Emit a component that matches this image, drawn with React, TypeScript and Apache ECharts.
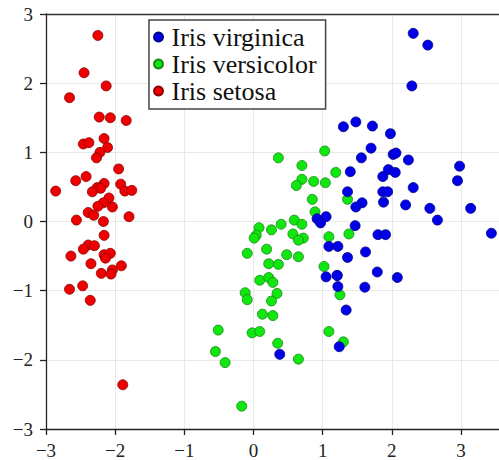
import React, { useEffect, useRef } from "react";
import * as echarts from "echarts";

// Iris PCA scores: [PC1, PC2]
const setosa: [number, number][] = [
  [-2.25, 2.69], [-2.45, 2.15], [-2.13, 1.96], [-2.66, 1.79], [-2.23, 1.51],
  [-2.07, 1.5], [-1.84, 1.46], [-2.16, 1.2], [-2.46, 1.12], [-2.38, 1.14],
  [-2.11, 1.07], [-2.22, 1.0], [-2.27, 0.92], [-1.95, 0.76], [-2.42, 0.65],
  [-2.57, 0.59], [-2.16, 0.55], [-1.92, 0.54], [-2.26, 0.49], [-2.21, 0.48],
  [-2.33, 0.43], [-2.86, 0.44], [-1.86, 0.44], [-1.76, 0.45], [-2.09, 0.34],
  [-2.17, 0.27], [-2.25, 0.22], [-2.04, 0.21], [-2.39, 0.13], [-2.31, 0.09],
  [-2.56, 0.02], [-2.17, 0.0], [-1.8, 0.07], [-2.16, -0.2], [-2.39, -0.34],
  [-2.3, -0.35], [-2.46, -0.4], [-2.64, -0.5], [-2.16, -0.48], [-2.07, -0.46],
  [-2.14, -0.53], [-2.35, -0.61], [-1.91, -0.64], [-2.04, -0.7], [-2.2, -0.75],
  [-2.06, -0.76], [-2.66, -0.98], [-2.47, -0.93], [-2.36, -1.14], [-1.89, -2.36],
];

const versicolor: [number, number][] = [
  [0.36, 0.92], [1.03, 1.02], [0.7, 0.81], [1.19, 0.71], [0.7, 0.61],
  [0.62, 0.52], [0.87, 0.58], [1.04, 0.56], [0.85, 0.32], [1.36, 0.32],
  [0.89, 0.14], [0.08, -0.09], [0.26, -0.12], [0.4, -0.04], [0.59, 0.02],
  [0.7, -0.04], [0.04, -0.2], [0.01, -0.24], [0.57, -0.18], [0.72, -0.24],
  [0.65, -0.27], [1.09, -0.22], [1.38, -0.18], [-0.09, -0.46], [0.19, -0.4],
  [0.48, -0.48], [0.65, -0.51], [0.22, -0.61], [0.36, -0.62], [1.02, -0.65],
  [0.09, -0.85], [0.22, -0.81], [0.28, -0.88], [-0.12, -1.03], [-0.09, -1.13],
  [0.34, -1.04], [0.26, -1.15], [0.13, -1.34], [0.28, -1.36], [-0.51, -1.57],
  [-0.02, -1.61], [0.09, -1.59], [0.35, -1.76], [-0.55, -1.88], [-0.41, -2.04],
  [0.65, -1.99], [-0.17, -2.67], [1.09, -1.59], [1.25, -1.06], [1.3, -1.74],
];

const virginica: [number, number][] = [
  [2.31, 2.72], [2.52, 2.55], [2.29, 1.96], [1.3, 1.37], [1.48, 1.44],
  [1.72, 1.38], [1.98, 1.27], [1.7, 1.06], [1.56, 0.92], [2.02, 0.97],
  [2.06, 0.99], [2.24, 0.89], [2.98, 0.8], [1.4, 0.72], [1.87, 0.65],
  [1.95, 0.75], [2.05, 0.71], [2.95, 0.59], [2.31, 0.49], [1.36, 0.43],
  [1.87, 0.43], [1.94, 0.43], [1.57, 0.27], [1.48, 0.21], [1.88, 0.28],
  [2.2, 0.24], [2.55, 0.19], [3.14, 0.19], [2.66, 0.02], [1.05, 0.07],
  [0.92, 0.04], [0.97, -0.02], [1.47, -0.06], [1.8, -0.19], [1.91, -0.19],
  [3.44, -0.17], [1.09, -0.36], [1.22, -0.36], [1.62, -0.44], [1.36, -0.52],
  [1.79, -0.73], [1.05, -0.8], [1.21, -0.78], [2.08, -0.81], [1.22, -0.94],
  [1.61, -0.95], [1.34, -1.28], [1.24, -1.81], [0.38, -1.92], [1.21, -0.78],
];

const legendNames = ["Iris virginica", "Iris versicolor", "Iris setosa"];
const tickValues = [-3, -2, -1, 0, 1, 2, 3];

const SERIF = "Liberation Serif";

const fmt = (v: number) =>
  tickValues.includes(v) ? String(v).replace("-", "\u2212") : "";

export default function App() {
  const ref = useRef<HTMLDivElement>(null);
  useEffect(() => {
    if (!ref.current) return;
    const chart = echarts.init(ref.current, null, { renderer: "svg" });
    const axisLine = { show: true, lineStyle: { color: "#222", width: 1.3 } };
    const mk = (name: string, data: [number, number][], color: string, border: string) => ({
      name,
      type: "scatter",
      data,
      symbol: "circle",
      symbolSize: 10,
      itemStyle: { color, borderColor: border, borderWidth: 0.8, opacity: 1 },
    });
    chart.setOption({
      animation: false,
      backgroundColor: "#ffffff",
      textStyle: { fontFamily: SERIF },
      grid: { left: 46, top: 14, right: 0, bottom: 31, containLabel: false },
      xAxis: [
        {
          type: "value",
          min: -3,
          max: 3.55,
          interval: 1,
          axisLine: { ...axisLine, onZero: false },
          axisTick: { show: true, inside: false, length: 6, lineStyle: { color: "#222", width: 1.3 } },
          axisLabel: {
            formatter: fmt,
            fontFamily: SERIF,
            fontSize: 19,
            color: "#222",
            margin: 12,
            showMaxLabel: false,
          },
          splitLine: { show: true, lineStyle: { color: "#e8e8e8", width: 1 } },
        },
        {
          type: "value",
          position: "top",
          min: -3,
          max: 3.55,
          interval: 1,
          axisLine: { show: true, onZero: false, lineStyle: { color: "#333", width: 1.3 } },
          axisTick: { show: false },
          axisLabel: { show: false },
          splitLine: { show: false },
        },
      ],
      yAxis: {
        type: "value",
        min: -3,
        max: 3,
        interval: 1,
        axisLine: { ...axisLine, onZero: false },
        axisTick: { show: true, inside: false, length: 6, lineStyle: { color: "#222", width: 1.3 } },
        axisLabel: {
          formatter: fmt,
          fontFamily: SERIF,
          fontSize: 19,
          color: "#222",
          margin: 13,
        },
        splitLine: { show: true, lineStyle: { color: "#e8e8e8", width: 1 } },
      },
      legend: {
        data: legendNames,
        orient: "vertical",
        left: 149,
        top: 20,
        padding: [4, 9, 5, 4],
        itemGap: 1,
        itemWidth: 16,
        itemHeight: 9,
        icon: "circle",
        backgroundColor: "#ffffff",
        borderColor: "#444",
        borderWidth: 1.5,
        borderRadius: 0,
        textStyle: { fontFamily: SERIF, fontSize: 26, color: "#111" },
      },
      series: [
        mk("Iris setosa", setosa, "#ee0000", "#880000"),
        mk("Iris versicolor", versicolor, "#11e611", "#118811"),
        mk("Iris virginica", virginica, "#0000e6", "#000088"),
      ],
    });
    return () => chart.dispose();
  }, []);
  return (
    <div
      ref={ref}
      style={{ position: "fixed", left: 0, top: 0, width: 499, height: 460 }}
    />
  );
}
